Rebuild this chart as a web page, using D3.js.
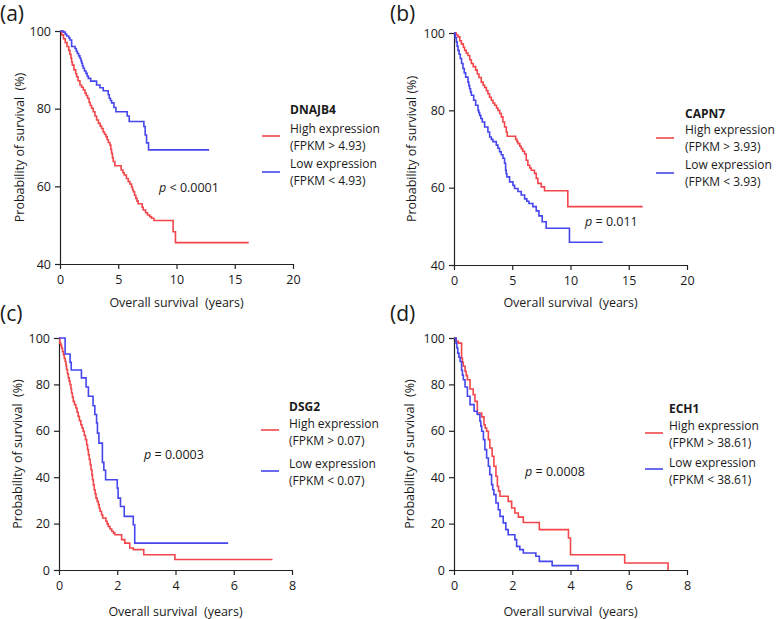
<!DOCTYPE html>
<html><head><meta charset="utf-8">
<script src="https://cdn.jsdelivr.net/npm/d3@7"></script>
<style>
body{margin:0;background:#fff;}
text{font-family:"Open Sans",sans-serif;fill:#1a1a1a;}
</style></head>
<body><svg id="c" width="777" height="619"></svg>
<script>
// ---------- DATA ----------
const panelLetters = ["(a)", "(b)", "(c)", "(d)"];
const geneNames = ["DNAJB4", "CAPN7", "DSG2", "ECH1"];
const fpkmCutoffs = ["4.93", "3.93", "0.07", "38.61"];
const pValueLabels = ["< 0.0001", "= 0.011", "= 0.0003", "= 0.0008"];
const xTicksTop = [0, 5, 10, 15, 20];
const yTicksTop = [40, 60, 80, 100];
const xTicksBottom = [0, 2, 4, 6, 8];
const yTicksBottom = [0, 20, 40, 60, 80, 100];

// [time (years), survival (%)] step points
const dnajb4High = [[0,100],[0.15,99],[0.3,98],[0.45,97],[0.6,96],[0.75,95],[0.85,94],[0.94,93],[1.0,92],[1.06,91.2],[1.2,90],[1.35,89],[1.43,88.2],[1.55,87.2],[1.71,86.1],[1.85,85.5],[2.0,84.8],[2.15,84],[2.25,83.4],[2.37,82.7],[2.5,81.6],[2.6,80.8],[2.71,80.1],[2.85,79.2],[3.0,78.1],[3.14,77.1],[3.3,76.2],[3.45,75.5],[3.57,74.9],[3.7,74],[3.82,73.4],[3.94,72.8],[4.05,72],[4.15,71.3],[4.29,70.6],[4.36,69.5],[4.43,68.5],[4.5,67.4],[4.57,66.4],[4.71,65.3],[5.25,64.2],[5.4,63.5],[5.51,62.9],[5.7,62],[5.86,61.2],[6.0,60.6],[6.14,59.9],[6.22,59.2],[6.29,58.6],[6.4,57.7],[6.51,56.9],[6.61,56.2],[6.71,55.5],[7.05,54.6],[7.14,53.9],[7.35,53.2],[7.51,52.6],[7.7,52.2],[7.86,51.8],[8.06,51.2],[9.71,48.3],[9.91,45.5],[16.2,45.5]];
const dnajb4Low = [[0,100],[0.29,99.7],[0.45,99.2],[0.57,98.7],[0.75,98.2],[0.86,97.7],[1.0,96],[1.29,95.5],[1.4,94.8],[1.49,94.2],[1.6,93.6],[1.71,93],[1.8,92.3],[1.86,91.7],[1.93,91],[2.0,90.4],[2.1,89.7],[2.23,89.1],[2.33,88.4],[2.43,87.8],[2.63,87.1],[3.14,86.1],[3.43,85.4],[3.71,84.6],[4.14,83.6],[4.23,82.7],[4.33,82.1],[4.43,81.5],[4.63,80.3],[4.8,79.2],[5.77,78.1],[5.94,76.7],[7.2,75.4],[7.31,73.2],[7.43,71.2],[7.6,69.4],[12.8,69.4]];
const capn7High = [[0,100],[0.2,99.5],[0.34,99],[0.5,98],[0.63,97.2],[0.8,96.3],[0.91,95.5],[1.05,94.8],[1.2,94.2],[1.35,93.1],[1.49,92.1],[1.65,91.3],[1.86,90.4],[2.0,89.4],[2.14,88.5],[2.34,87.3],[2.5,86.5],[2.63,85.9],[2.78,85.1],[2.91,84.3],[3.05,83.4],[3.2,82.6],[3.35,81.9],[3.49,81.3],[3.65,80.6],[3.77,80],[3.92,79.2],[4.06,78.3],[4.2,77],[4.34,75.7],[4.49,74.4],[4.57,73.3],[5.29,72.5],[5.4,71.9],[5.49,71.4],[5.65,70.7],[5.77,70.1],[5.9,69.4],[6.06,68.7],[6.2,67.1],[6.34,65.8],[6.5,65.1],[6.63,64.5],[6.91,63.7],[7.06,62.4],[7.2,61.1],[7.49,60.2],[7.77,59.2],[9.77,55.1],[16.2,55.1]];
const capn7Low = [[0,100],[0.1,98.8],[0.2,97.7],[0.27,96.6],[0.34,95.5],[0.44,94.5],[0.54,93.4],[0.65,92.1],[0.77,90.8],[0.88,89.7],[1.0,88.6],[1.2,87.3],[1.27,86.4],[1.34,85.6],[1.42,84.7],[1.49,83.9],[1.69,82.6],[1.86,81.3],[2.06,80],[2.13,79.4],[2.2,78.7],[2.3,77.9],[2.43,77],[2.63,75.7],[2.91,74.4],[3.06,73.1],[3.2,72.5],[3.34,71.9],[3.63,71],[3.77,70.2],[3.91,69.3],[4.05,68.5],[4.2,67.6],[4.34,66.3],[4.43,64.5],[4.48,63.6],[4.54,62.8],[4.77,61.5],[5.06,60.6],[5.2,59.8],[5.49,59],[5.77,58.1],[6.06,57.1],[6.25,56.5],[6.43,55.9],[6.77,55.1],[7.06,54],[7.29,52.7],[7.57,51.2],[7.91,49.5],[9.91,45.9],[12.77,45.9]];
const dsg2High = [[0,100],[0.03,97.8],[0.06,96.8],[0.09,95.7],[0.12,94.2],[0.15,92.8],[0.18,91.3],[0.21,89.9],[0.24,88.1],[0.26,86.4],[0.29,84.6],[0.32,82.8],[0.35,81.4],[0.38,79.9],[0.41,78.1],[0.43,76.3],[0.46,74.5],[0.49,72.7],[0.53,71.3],[0.58,69.8],[0.62,68],[0.66,66.2],[0.7,64.4],[0.75,62.6],[0.79,61.2],[0.83,59.8],[0.87,58],[0.91,56.2],[0.95,54],[0.98,51.9],[1.01,49.7],[1.04,47.6],[1.07,45.4],[1.1,43.2],[1.13,41],[1.15,38.9],[1.18,36.7],[1.21,34.6],[1.24,32.8],[1.27,31],[1.31,29.6],[1.35,28.2],[1.38,26.7],[1.41,25.3],[1.46,23.8],[1.5,22.4],[1.61,21],[1.65,19.9],[1.69,18.8],[1.75,17.7],[1.81,16.7],[1.87,15.9],[1.92,15.2],[2.15,13.1],[2.26,11.6],[2.43,9.5],[2.55,8.8],[2.91,6.6],[3.98,4.5],[7.33,4.5]];
const dsg2Low = [[0,100],[0.21,93.1],[0.38,89.5],[0.42,86.2],[0.77,82.8],[0.93,78.9],[1.01,74.9],[1.17,70.8],[1.23,67],[1.29,63.4],[1.32,59],[1.37,54.7],[1.49,46.4],[1.54,43],[1.6,38.9],[2.0,35.3],[2.03,31],[2.11,27.4],[2.24,23.1],[2.55,19.5],[2.6,11.6],[5.81,11.6]];
const ech1High = [[0,100],[0.07,98.6],[0.15,97.8],[0.26,91.4],[0.29,89.5],[0.32,87.8],[0.38,85.6],[0.42,83.8],[0.46,82],[0.55,78],[0.66,75.6],[0.72,72.7],[0.8,67.7],[0.95,66],[1.03,62.6],[1.07,61.2],[1.12,59.8],[1.18,56.2],[1.23,52.6],[1.31,49],[1.37,44.7],[1.44,40.4],[1.49,36.1],[1.53,34],[1.58,31.8],[1.86,29.6],[1.98,26.7],[2.09,24.6],[2.21,22.8],[2.38,20.5],[2.93,17.4],[3.93,13.8],[4.0,6.6],[5.86,3],[7.35,0]];
const ech1Low = [[0,100],[0.07,97.8],[0.1,95.7],[0.13,93.5],[0.17,91.7],[0.21,89.9],[0.26,86.1],[0.29,84],[0.32,82],[0.38,78.9],[0.46,74.9],[0.55,71.3],[0.69,68.4],[0.8,67],[0.89,64.1],[0.92,62],[0.95,59.8],[1.01,56.2],[1.06,51.9],[1.12,48.3],[1.18,44.7],[1.23,41.1],[1.29,36.8],[1.33,34.6],[1.37,32.5],[1.44,28.9],[1.52,26],[1.58,23.1],[1.69,20.3],[1.78,17.4],[1.86,15.2],[2.09,13.1],[2.15,10.2],[2.26,8.8],[2.38,7.3],[2.81,5.9],[2.93,3.7],[3.37,1.9],[4.26,0]];

// ---------- LAYOUT ----------
const RED = "#f2464b", BLUE = "#4646ee";
const panels = [
  {high:dnajb4High, low:dnajb4Low, xd:[0,20], xt:xTicksTop, yd:[40,100], yt:yTicksTop,
   box:{l:60,r:293,t:31,b:264}, letter:{x:0,y:21}, yTitleX:20, yTitle:"Probability of survival  (%)", xTitleY:307,
   leg:{lx:262, tx:290, title:114, lines:[133,150,168,185], red:136, blue:172}, p:{x:159,y:192}},
  {high:capn7High, low:capn7Low, xd:[0,20], xt:xTicksTop, yd:[40,100], yt:yTicksTop,
   box:{l:454,r:687,t:33,b:265}, letter:{x:390,y:21}, yTitleX:412, yTitle:"Probability of survival (%)", xTitleY:307,
   leg:{lx:656, tx:685, title:118, lines:[134,151,169,186], red:138, blue:173}, p:{x:585,y:226}},
  {high:dsg2High, low:dsg2Low, xd:[0,8], xt:xTicksBottom, yd:[0,100], yt:yTicksBottom,
   box:{l:59,r:292,t:338,b:570}, letter:{x:0,y:321}, yTitleX:18, yTitle:"Probability of survival  (%)", xTitleY:616,
   leg:{lx:261, tx:289, title:411, lines:[428,445,468,485], red:430, blue:471}, p:{x:144,y:459}},
  {high:ech1High, low:ech1Low, xd:[0,8], xt:xTicksBottom, yd:[0,100], yt:yTicksBottom,
   box:{l:454,r:687,t:338,b:570}, letter:{x:390,y:321}, yTitleX:410, yTitle:"Probability of survival  (%)", xTitleY:616,
   leg:{lx:645, tx:669, title:413, lines:[430,447,467,484], red:433, blue:469}, p:{x:525,y:476}}
];

const svg = d3.select("#c");

panels.forEach((P, i) => {
  const g = svg.append("g");
  const x = d3.scaleLinear().domain(P.xd).range([P.box.l, P.box.r]);
  const y = d3.scaleLinear().domain(P.yd).range([P.box.b, P.box.t]);

  const xa = g.append("g").attr("transform", `translate(0,${P.box.b})`)
    .call(d3.axisBottom(x).tickValues(P.xt).tickSize(5).tickSizeOuter(0).tickPadding(6));
  const ya = g.append("g").attr("transform", `translate(${P.box.l},0)`)
    .call(d3.axisLeft(y).tickValues(P.yt).tickSize(5).tickSizeOuter(0).tickPadding(4));
  [xa, ya].forEach(a => {
    a.selectAll("path,line").attr("stroke", "#222").attr("stroke-width", 1.2);
    a.selectAll("text").style("font-family", '"Open Sans",sans-serif').style("font-size", "12.5px").attr("fill", "#1a1a1a");
  });

  const line = d3.line().x(d => x(d[0])).y(d => y(d[1])).curve(d3.curveStepAfter);
  g.append("path").datum(P.high).attr("d", line).attr("fill", "none").attr("stroke", RED).attr("stroke-width", 1.6);
  g.append("path").datum(P.low).attr("d", line).attr("fill", "none").attr("stroke", BLUE).attr("stroke-width", 1.6);

  // panel letter
  g.append("text").attr("x", P.letter.x).attr("y", P.letter.y).style("font-size", "21px").text(panelLetters[i]);
  // axis titles
  g.append("text").attr("transform", `translate(${P.yTitleX + 4},${(P.box.t + P.box.b) / 2}) rotate(-90)`)
    .attr("text-anchor", "middle").style("white-space", "pre").style("font-size", "12.5px").text(P.yTitle);
  g.append("text").attr("x", (P.box.l + P.box.r) / 2).attr("y", P.xTitleY).attr("text-anchor", "middle")
    .style("white-space", "pre").style("font-size", "12.5px").text("Overall survival  (years)");

  // legend
  const L = P.leg;
  g.append("text").attr("x", L.tx).attr("y", L.title).style("font-size", "12px").style("font-weight", "bold").text(geneNames[i]);
  const legTexts = ["High expression", `(FPKM > ${fpkmCutoffs[i]})`, "Low expression", `(FPKM < ${fpkmCutoffs[i]})`];
  legTexts.forEach((t, k) => g.append("text").attr("x", L.tx).attr("y", L.lines[k]).style("font-size", "12px").text(t));
  g.append("line").attr("x1", L.lx).attr("x2", L.lx + 18).attr("y1", L.red).attr("y2", L.red).attr("stroke", RED).attr("stroke-width", 1.6);
  g.append("line").attr("x1", L.lx).attr("x2", L.lx + 18).attr("y1", L.blue).attr("y2", L.blue).attr("stroke", BLUE).attr("stroke-width", 1.6);

  // p-value
  const pt = g.append("text").attr("x", P.p.x).attr("y", P.p.y).style("font-size", "12.5px").style("white-space", "pre");
  pt.append("tspan").style("font-style", "italic").text("p");
  pt.append("tspan").text(" " + pValueLabels[i]);
});
</script></body></html>
